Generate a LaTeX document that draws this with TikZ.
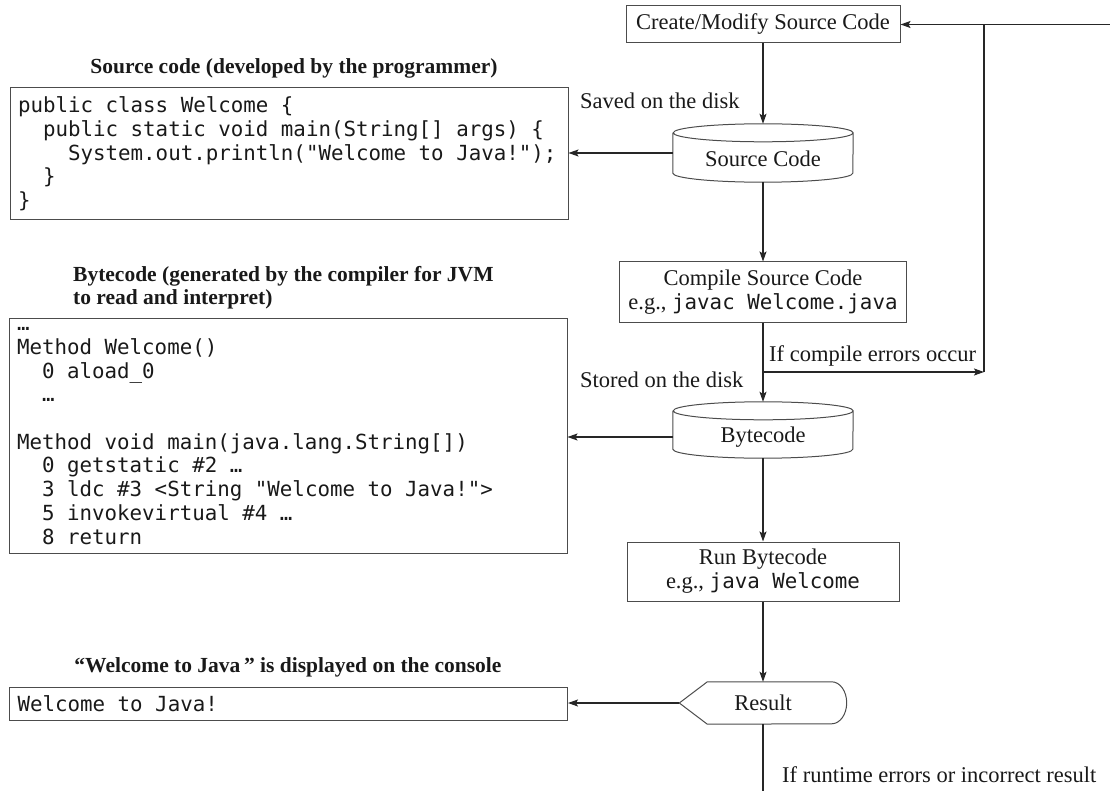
\documentclass[tikz,border=0pt]{standalone}
\usepackage{fontspec}
\setmainfont{Liberation Serif}
\setmonofont{DejaVu Sans Mono}
\usetikzlibrary{arrows.meta,calc}
\newcommand\cf{\fontsize{20.8}{23.7}\selectfont\ttfamily}
\newcommand\fixsp{\spaceskip=\fontcharwd\font`\x\relax\xspaceskip=\spaceskip}
\begin{document}
\begin{tikzpicture}[x=1pt,y=-1pt,
  lbl/.style={font=\fontsize{22.5}{24}\selectfont, text=black!90, inner sep=0pt},
  head/.style={font=\fontsize{21.5}{23}\selectfont\bfseries, text=black!90, inner sep=0pt},
  flowbox/.style={draw=black!70, line width=1pt, inner sep=0pt, align=center, font=\fontsize{22.5}{24}\selectfont, text=black!90},
  codebox/.style={draw=black!70, line width=1pt, inner xsep=8pt, inner ysep=0pt, align=left, font=\cf, text=black!90, text width=542pt},
  ghost/.style={inner sep=0pt, font=\fontsize{22.5}{24}\selectfont, text=black!90},
  conn/.style={draw=black!85, line width=1.2pt, -{Stealth[length=10pt,width=7pt,inset=2pt]}},
  wire/.style={draw=black!85, line width=1.2pt},
  outline/.style={draw=black!70, line width=1pt}
]
\path[use as bounding box] (0,0) rectangle (1110,791);

% flow column
\node[flowbox, minimum width=274pt, minimum height=37pt] (create) at (763,24.5) {Create/Modify Source Code};
\node[ghost, minimum width=180pt, minimum height=58pt] (srccyl) at (763,153) {\raisebox{-6pt}[\height][\depth]{Source Code}};
\node[flowbox, minimum width=287pt, minimum height=60pt] (compile) at (763,292) {Compile Source Code\\e.g., {\cf javac Welcome.java}};
\node[ghost, minimum width=180pt, minimum height=56pt] (bccyl) at (763,430) {\raisebox{-7pt}[\height][\depth]{Bytecode}};
\node[flowbox, minimum width=272pt, minimum height=59pt] (run) at (763,571.5) {Run Bytecode\\e.g., {\cf java Welcome}};
\node[ghost, minimum width=167pt, minimum height=42pt] (res) at (763,703) {Result};

% cylinder outlines
\foreach \c in {srccyl,bccyl}{
  \draw[outline] ([yshift=-9pt]\c.north west) -- ([yshift=9pt]\c.south west)
    arc[start angle=180,end angle=360,x radius=90pt,y radius=9pt]
    -- ([yshift=-9pt]\c.north east)
    arc[start angle=0,end angle=360,x radius=90pt,y radius=9pt];
}
% display shape
\draw[outline] (res.west) -- ([xshift=28pt]res.north west) -- ([xshift=-15pt]res.north east)
  arc[start angle=90,end angle=-90,x radius=15pt,y radius=21pt]
  -- ([xshift=28pt]res.south west) -- cycle;

% headings
\node[head] (h1) at (294,68) {Source code (developed by the programmer)};
\node[head, align=left, anchor=west] (h2) at (73,288) {Bytecode (generated by the compiler for JVM\\to read and interpret)};
\node[head] (h3) at (288,667) {“Welcome to Java\,” is displayed on the console};

% code boxes
\node[codebox, minimum height=132pt] (srcbox) at (289,154) {\fixsp public class Welcome \{\\\phantom{xx}public static void main(String[] args) \{\\\phantom{xxxx}System.out.println("Welcome to Java!");\\\phantom{xx}\}\\\}};
\node[codebox, minimum height=234pt] (bcbox) at (288,436) {\fixsp …\\Method Welcome()\\\phantom{xx}0 aload\_0\\\phantom{xx}…\\\mbox{}\\Method void main(java.lang.String[])\\\phantom{xx}0 getstatic \#2 …\\\phantom{xx}3 ldc \#3 <String "Welcome to Java!">\\\phantom{xx}5 invokevirtual \#4 …\\\phantom{xx}8 return};
\node[codebox, minimum height=33pt] (outbox) at (288.5,703.5) {\fixsp Welcome to Java!};

% labels
\node[lbl, anchor=base west] (saved) at (580,109) {Saved on the disk};
\node[lbl, anchor=base west] (stored) at (580,387) {Stored on the disk};
\node[lbl, anchor=base west] (cerr) at (769,361) {If compile errors occur};
\node[lbl, anchor=base west] (rerr) at (782,782) {If runtime errors or incorrect result};

% connectors
\coordinate (br) at (763,372);
\coordinate (fb) at (984,372);
\coordinate (fbtop) at (984,24.5);
\coordinate (edge) at (1110,24.5);
\coordinate (bot) at (763,791);

\draw[conn] (create.south) -- (srccyl.north);
\draw[conn] (srccyl.south) -- (compile.north);
\draw[wire] (compile.south) -- (br);
\draw[conn] (br) -- (bccyl.north);
\draw[conn] (br) -- (fb);
\draw[wire] (fb) -- (fbtop);
\draw[conn] (edge) -- (create.east);
\draw[conn] (bccyl.south) -- (run.north);
\draw[conn] (run.south) -- (res.north);
\draw[wire] (res.south) -- (bot);
\draw[conn] (srccyl.west) -- (srccyl.west -| srcbox.east);
\draw[conn] ([yshift=-7pt]bccyl.west) -- ([yshift=-7pt]bccyl.west -| bcbox.east);
\draw[conn] (res.west) -- (res.west -| outbox.east);
\end{tikzpicture}
\end{document}
